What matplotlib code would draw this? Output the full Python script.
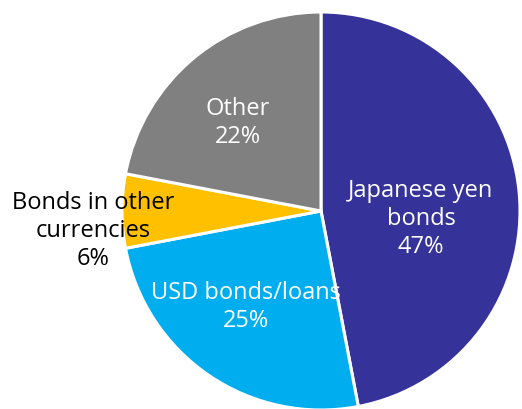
import matplotlib.pyplot as plt

plt.rcParams['font.family'] = ['Open Sans', 'DejaVu Sans']

labels = ['Japanese yen\nbonds', 'USD bonds/loans', 'Bonds in other\ncurrencies', 'Other']
shares = [47, 25, 6, 22]
colors = ['#353399', '#00AEEF', '#FFC000', '#808080']
text_colors = ['white', 'white', 'black', 'white']
# label centres in pixel coords (y measured from top)
label_pos = [(421, 219), (246, 307), (93, 231), (238, 123)]

W, H = 522, 409
fig = plt.figure(figsize=(W / 100, H / 100), dpi=100)
ax = fig.add_axes([0, 0, 1, 1])

ax.pie(shares, colors=colors, startangle=90, counterclock=False,
       center=(321, H - 211), radius=199,
       wedgeprops=dict(edgecolor='white', linewidth=2.2))

# pie() resets the limits, so set them afterwards
ax.set_xlim(0, W)
ax.set_ylim(0, H)
ax.set_aspect('equal')
ax.axis('off')

for lab, val, (x, y), c in zip(labels, shares, label_pos, text_colors):
    ax.text(x, H - y, f'{lab}\n{val}%', ha='center', va='center',
            color=c, fontsize=17, linespacing=1.22)

fig.savefig('out.png', dpi=100)
